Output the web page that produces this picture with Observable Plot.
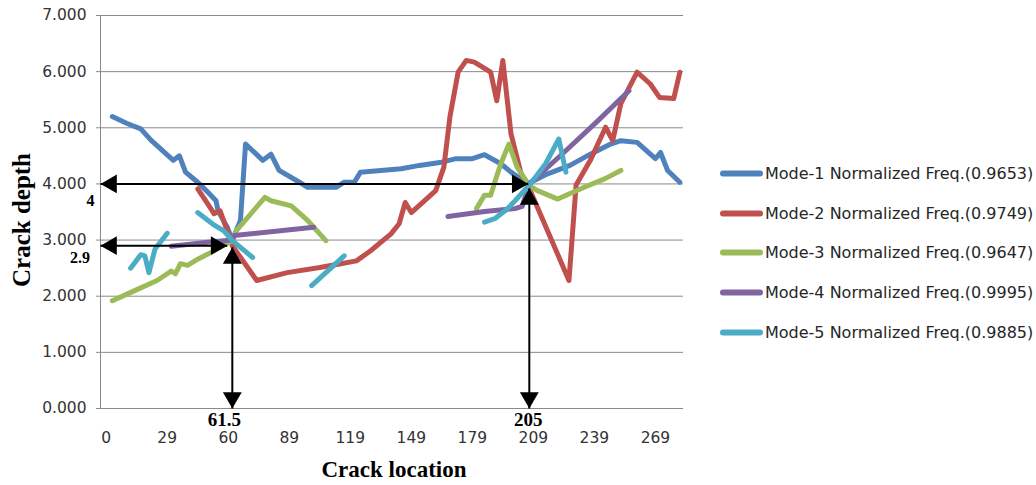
<!DOCTYPE html>
<html><head><meta charset="utf-8">
<script src="https://cdn.jsdelivr.net/npm/d3@7"></script>
<script src="https://cdn.jsdelivr.net/npm/@observablehq/plot@0.6"></script>
<style>
html,body{margin:0;padding:0;background:#fff;}
#wrap{position:relative;width:1036px;height:485px;overflow:hidden;}
#legend{position:absolute;left:720px;top:0;font-family:"DejaVu Sans";font-size:16px;color:#262626;}
.item{position:absolute;left:0;display:flex;align-items:center;white-space:nowrap;transform:translateY(-50%);}
.sw{width:43px;height:6px;border-radius:3px;margin-right:2px;}
</style></head><body><div id="wrap"><div id="legend"></div></div>
<script>
// x is the category position along the axis; tick labels as printed
const xTickPos = [0, 30, 60, 90, 120, 150, 180, 210, 240, 270];
const xTickLabels = ["0", "29", "60", "89", "119", "149", "179", "209", "239", "269"];
const yTicks = [0, 1, 2, 3, 4, 5, 6, 7];
const xDomain = [-2.8, 283.8];

const seriesNames = [
  "Mode-1 Normalized Freq.(0.9653)",
  "Mode-2 Normalized Freq.(0.9749)",
  "Mode-3 Normalized Freq.(0.9647)",
  "Mode-4 Normalized Freq.(0.9995)",
  "Mode-5 Normalized Freq.(0.9885)"
];
const seriesColors = ["#4F81BD", "#C0504D", "#9BBB59", "#8064A2", "#4BACC6"];

// each series: list of segments, each a list of [x, depth]
const mode1 = [[[3,5.20],[10,5.08],[17,4.98],[22,4.78],[33,4.42],[36,4.50],[39,4.21],[45,4.03],[50,3.85],[54,3.70],[55,3.52],[59.5,3.23],[62,3.0],[66,3.35],[68.5,4.71],[77,4.42],[81,4.53],[85,4.24],[95,4.03],[99,3.94],[113,3.94],[117,4.03],[122,4.03],[125,4.21],[145,4.27],[154,4.33],[164,4.38],[172,4.45],[180,4.45],[186,4.52],[194,4.36],[199,4.21],[207,4.0],[217,4.18],[228,4.33],[238,4.53],[248,4.71],[253,4.77],[261,4.74],[270,4.45],[272.5,4.56],[276,4.24],[282,4.03]]];
const mode2 = [[[45,3.91],[50,3.64],[53,3.47],[56,3.52],[59.5,3.17],[62,2.9],[74,2.28],[89,2.42],[105,2.51],[114,2.57],[123,2.63],[130,2.81],[140,3.11],[144,3.29],[147,3.67],[150,3.49],[162,3.88],[166,4.30],[169,5.20],[173,5.99],[177,6.20],[181,6.17],[189,5.99],[192,5.48],[195,6.20],[199,4.89],[204,4.18],[208,3.92],[227.5,2.28],[231,3.98],[238,4.42],[245.5,5.01],[249,4.77],[253,5.43],[261,5.99],[267.5,5.78],[272,5.54],[279,5.52],[282,5.99]]];
const mode3 = [
  [[3,1.92],[14,2.10],[25,2.28],[30,2.40],[32,2.45],[34,2.40],[36.5,2.58],[40,2.55],[45,2.66],[50,2.75],[56,2.87],[62,2.99],[64,3.17],[78,3.76],[81,3.70],[91,3.61],[99,3.35],[108,2.99]],
  [[182,3.56],[186,3.80],[189,3.80],[192,4.14],[194,4.36],[198,4.71],[202,4.30],[208,3.97],[212,3.88],[222,3.73],[235,3.94],[245,4.09],[253,4.24]]
];
const mode4 = [
  [[32,2.89],[50,2.96],[62,3.0],[63,3.08],[102,3.23]],
  [[168,3.42],[186,3.51],[201,3.56],[204.5,3.6],[208,4.0],[225,4.56],[241,5.10],[257,5.66]]
];
const mode5 = [
  [[12,2.50],[17,2.74],[19,2.72],[21,2.42],[24,2.84],[30,3.12]],
  [[45,3.49],[53,3.27],[58,3.16],[62,2.99],[72,2.69]],
  [[101,2.19],[117,2.72]],
  [[186,3.32],[191,3.38],[197,3.55],[201,3.70],[208.5,4.0],[216,4.36],[222.5,4.80],[226,4.21]]
];
const allModes = [mode1, mode2, mode3, mode4, mode5];

// annotation arrows
const hArrows = [{y: 4, xEnd: 207.5, label: "4"}, {y: 2.9, xEnd: 59.5, label: "2.9"}];
const vArrows = [{x: 62, yEnd: 2.87, label: "61.5"}, {x: 208, yEnd: 3.92, label: "205"}];
const hLabelOffsets = [[-10, 17], [-20.5, 12]];
const vLabelOffsets = [-8, -1];

const rowsFor = (segs) => segs.flatMap((seg, si) => seg.map(([x, y]) => ({x, y, seg: si})));

const lineMarks = allModes.map((m, i) => Plot.line(rowsFor(m), {
  x: "x", y: "y", z: "seg", stroke: seriesColors[i], strokeWidth: 5,
  strokeLinecap: "round", strokeLinejoin: "round"
}));

// triangle geometry (d3.symbolTriangle) for r
const R = 7;
const tipOff = 2 * Math.sqrt(Math.PI * R * R / (3 * Math.sqrt(3)));

const serifBold = {fontFamily: "Liberation Serif", fontWeight: "bold", fill: "#000"};

const chart = Plot.plot({
  width: 1036, height: 485,
  marginLeft: 100, marginRight: 353, marginTop: 15, marginBottom: 77,
  x: {domain: xDomain},
  y: {domain: [0, 7]},
  style: {fontFamily: "DejaVu Sans", fontSize: "15.5px", color: "#333", background: "#fff"},
  marks: [
    Plot.gridY(yTicks, {stroke: "#8a8a8a", strokeOpacity: 1}),
    Plot.ruleX([xDomain[0]], {stroke: "#8a8a8a"}),
    Plot.axisY(yTicks, {tickFormat: d3.format(".3f"), tickSize: 4, tickPadding: 10, stroke: "#8a8a8a", fill: "#333", label: null}),
    Plot.axisX(xTickPos, {tickFormat: d => xTickLabels[xTickPos.indexOf(d)], tickSize: 0, tickPadding: 23, fill: "#333", label: null}),
    ...lineMarks,
    // horizontal arrows
    Plot.link(hArrows, {x1: () => xDomain[0], x2: "xEnd", y1: "y", y2: "y", stroke: "black", strokeWidth: 2}),
    Plot.dot(hArrows, {x: () => xDomain[0], y: "y", symbol: "triangle", r: R, fill: "black", rotate: -90, dx: tipOff}),
    Plot.dot(hArrows, {x: "xEnd", y: "y", symbol: "triangle", r: R, fill: "black", rotate: 90, dx: -tipOff}),
    // vertical arrows
    Plot.link(vArrows, {x1: "x", x2: "x", y1: () => 0, y2: "yEnd", stroke: "black", strokeWidth: 2}),
    Plot.dot(vArrows, {x: "x", y: "yEnd", symbol: "triangle", r: R, fill: "black", rotate: 0, dy: tipOff}),
    Plot.dot(vArrows, {x: "x", y: () => 0, symbol: "triangle", r: R, fill: "black", rotate: 180, dy: -tipOff}),
    // annotation labels
    ...hArrows.map((a, i) => Plot.text([a], {y: "y", text: "label", frameAnchor: "left", textAnchor: "middle",
      dx: hLabelOffsets[i][0], dy: hLabelOffsets[i][1], fontSize: 16, ...serifBold})),
    ...vArrows.map((a, i) => Plot.text([a], {x: "x", y: () => 0, text: "label",
      dx: vLabelOffsets[i], dy: 11, fontSize: 19, ...serifBold})),
    // axis titles
    Plot.text(["Crack location"], {frameAnchor: "bottom", text: d => d, textAnchor: "middle", dx: 2, dy: 68, fontSize: 23, ...serifBold}),
    Plot.text(["Crack depth"], {frameAnchor: "left", text: d => d, textAnchor: "middle", rotate: -90, dx: -79, dy: 8, fontSize: 25, ...serifBold})
  ]
});
document.getElementById("wrap").prepend(chart);

// legend
const legend = document.getElementById("legend");
const rowY = [173, 213, 252, 292, 332];
seriesNames.forEach((name, i) => {
  const item = document.createElement("div");
  item.className = "item";
  item.style.top = rowY[i] + "px";
  item.innerHTML = `<span class="sw" style="background:${seriesColors[i]}"></span><span>${name}</span>`;
  legend.appendChild(item);
});
</script></body></html>
